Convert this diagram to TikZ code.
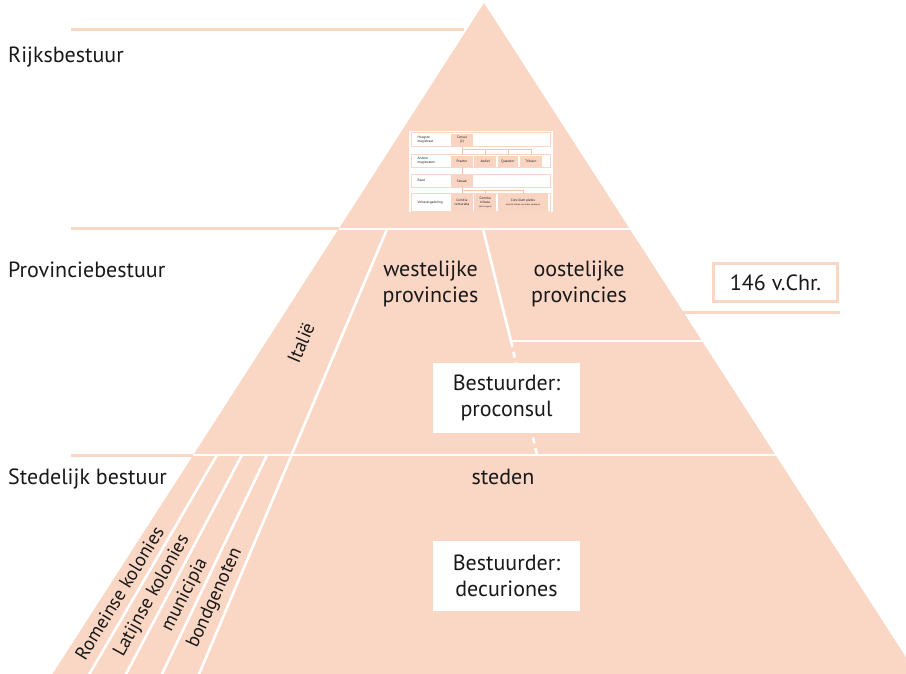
\documentclass[tikz,border=0pt]{standalone}
\usepackage{fontspec}
\setmainfont{PT Sans}
\definecolor{peach}{RGB}{249,215,196}
\definecolor{peachdark}{RGB}{244,196,172}
\definecolor{tfill}{RGB}{250,212,194}
\definecolor{txt}{RGB}{26,24,24}
\tikzset{
  wline/.style={white,line width=2.6pt},
  pline/.style={peach,line width=3pt},
  lbl/.style={font=\fontsize{22}{26}\selectfont,text=txt,inner sep=0pt},
  rlbl/.style={font=\fontsize{19}{22}\selectfont,text=txt,inner sep=0pt},
  inlbl/.style={font=\fontsize{22}{26}\selectfont,text=txt,align=center,inner sep=0pt},
  wbox/.style={fill=white,minimum width=147pt,minimum height=70pt,inner sep=0pt,align=center,
    font=\fontsize{22}{26}\selectfont,text=txt},
  tbox/.style={fill=tfill,inner sep=0pt,align=center,text=txt,font=\fontsize{3.4}{4}\selectfont},
  tlab/.style={anchor=west,inner sep=0pt,align=left,text=txt,font=\fontsize{3.4}{4}\selectfont},
  trow/.style={draw=peach,line width=0.6pt,fill=white},
  tcon/.style={peachdark,line width=0.6pt},
}
\begin{document}
\begin{tikzpicture}[x=1pt,y=-1pt]
\useasboundingbox (0,0) rectangle (906,674);
% pyramid
\coordinate (apex) at (484,3);
\coordinate (bl) at (52.5,674);
\coordinate (br) at (906,674);
\coordinate (re) at (906,657.3);
\fill[peach] (apex) -- (bl) -- (br) -- (re) -- cycle;
% white dividers
\begin{scope}
\clip (apex) -- (bl) -- (br) -- (re) -- cycle;
\draw[wline] (300,229) -- (720,229);
\draw[wline] (150,455) -- (850,455);
\draw[wline] (483,229) -- (511,341);
\draw[wline] (511,341) -- (740,341);
\draw[wline,dash pattern=on 6pt off 5pt] (511,341) -- (537,455);
\draw[wline] (387,229) -- (196.5,680);
\draw[wline] (217,455) -- (85.9,680);
\draw[wline] (242,455) -- (122.8,680);
\draw[wline] (267,455) -- (159.1,680);
\end{scope}
% external peach lines
\draw[pline] (71,30) -- (464,30);
\draw[pline] (71,229) -- (338.7,229);
\draw[pline] (71,455) -- (193.4,455);
\draw[pline] (682.7,312) -- (840,312);
% left labels
\node[lbl,anchor=base west] (rijk) at (8,63) {Rijksbestuur};
\node[lbl,anchor=base west] (prov) at (8,277) {Provinciebestuur};
\node[lbl,anchor=base west] (sted) at (8,484) {Stedelijk bestuur};
% provinces
\node[inlbl] (west) at (430.5,284) {westelijke\\provincies};
\node[inlbl] (oost) at (579,284) {oostelijke\\provincies};
\node[draw=peach,line width=3.3pt,fill=white,minimum width=124pt,minimum height=38pt,inner sep=0pt,
  font=\fontsize{22}{26}\selectfont,text=txt] (jaar) at (775.5,282.5) {146 v.Chr.};
\node[wbox] (procons) at (506.5,397.5) {Bestuurder:\\proconsul};
\node[inlbl,anchor=base] (steden) at (503,484) {steden};
\node[wbox] (decur) at (506.5,575.5) {Bestuurder:\\decuriones};
% rotated labels
\node[rlbl,rotate=66.9] (ital) at (301,343) {Italië};
\node[rlbl,rotate=58.5] (rom) at (119.5,593) {Romeinse kolonies};
\node[rlbl,rotate=61] (lat) at (152,596) {Latijnse kolonies};
\node[rlbl,rotate=63] (mun) at (185,595) {municipia};
\node[rlbl,rotate=65.5] (bond) at (215,598) {bondgenoten};
% small table
\fill[white] (408.5,131) rectangle (552.5,212.5);
\draw[trow] (411,132.3) rectangle (550.5,146.7);
\draw[trow] (411,154) rectangle (550.5,167.7);
\draw[trow] (411,174) rectangle (550.5,187.7);
\draw[trow] (411,193.3) rectangle (550.5,211);
\node[tlab] (l1) at (417.5,139.5) {Hoogste\\magistraat};
\node[tlab] (l2) at (417.5,160.8) {Andere\\magistraten};
\node[tlab] (l3) at (417.5,180.8) {Raad};
\node[tlab] (l4) at (417.5,202.2) {Volksvergadering};
\node[tbox,minimum width=21.7pt,minimum height=12pt] (consul) at (461.9,139.7) {Consul\\(2)};
\node[tbox,minimum width=21.7pt,minimum height=11pt] (praetor) at (461.9,161.2) {Praetor};
\node[tbox,minimum width=21.7pt,minimum height=11pt] (aediel) at (485.2,161.2) {Aediel};
\node[tbox,minimum width=20.6pt,minimum height=11pt] (quaestor) at (508,161.2) {Quaestor};
\node[tbox,minimum width=21.7pt,minimum height=11pt] (tribuun) at (530.9,161.2) {Tribuun};
\node[tbox,minimum width=21.7pt,minimum height=11.7pt] (senaat) at (461.9,180.9) {Senaat};
\node[tbox,minimum width=21.7pt,minimum height=16.7pt] (cc) at (461.9,202.7) {Comitia\\centuriata};
\node[tbox,minimum width=21.7pt,minimum height=16.7pt] (ct) at (485.2,202.7) {Comitia\\tributa\\{\fontsize{2.2}{2.8}\selectfont(alle burgers)}};
\node[tbox,minimum width=50.6pt,minimum height=16.7pt] (cp) at (523,202.7) {Concilium plebis\\{\fontsize{2.2}{2.8}\selectfont(comitia tributa met enkel plebejers)}};
\coordinate (h1) at (461.9,149);
\coordinate (h2) at (461.9,190);
\draw[tcon] (consul.south) -- (praetor.north);
\draw[tcon] (h1) -| (aediel.north);
\draw[tcon] (h1) -| (quaestor.north);
\draw[tcon] (h1) -| (tribuun.north);
\draw[tcon] (praetor.south) -- (senaat.north);
\draw[tcon] (senaat.south) -- (cc.north);
\draw[tcon] (h2) -| (ct.north);
\draw[tcon] (h2) -| (cp.north);
\end{tikzpicture}
\end{document}
